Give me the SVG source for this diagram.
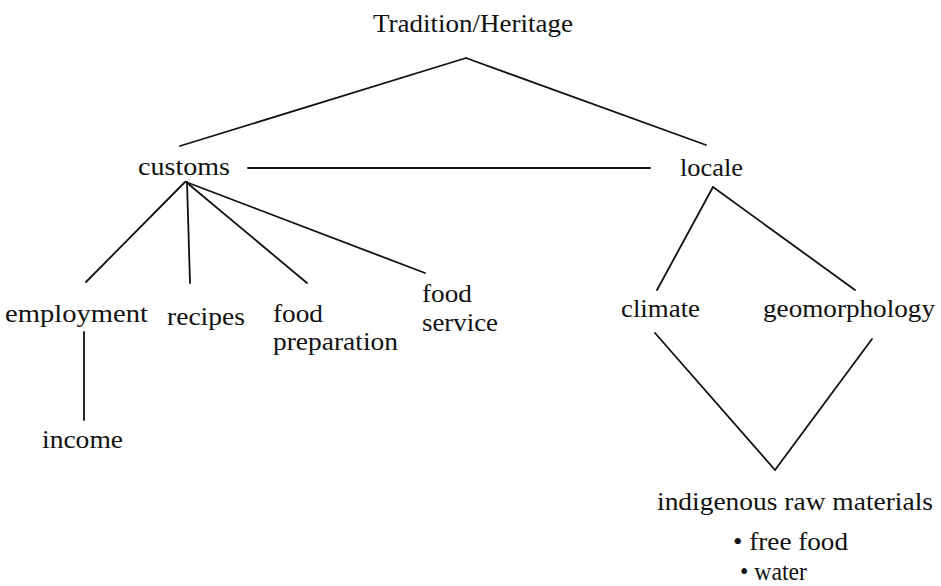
<svg xmlns="http://www.w3.org/2000/svg" width="941" height="586" viewBox="0 0 941 586" font-family="Liberation Serif, DejaVu Serif, serif">
<style>
text { font-family: 'Liberation Serif', 'DejaVu Serif', serif; font-size: 26px; fill: #111; }
.c line { stroke: #111; stroke-width: 1.8; stroke-linecap: round; }
</style>
<rect width="941" height="586" fill="#fff"/>
<g class="c" id="connectors">
<line x1="466" y1="58" x2="180" y2="146"/>
<line x1="466" y1="58" x2="706" y2="145"/>
<line x1="248" y1="168" x2="650" y2="168"/>
<line x1="185" y1="182" x2="86" y2="282"/>
<line x1="187" y1="182" x2="190" y2="283"/>
<line x1="186" y1="182" x2="307" y2="283"/>
<line x1="186" y1="182" x2="425" y2="273"/>
<line x1="84" y1="332" x2="84" y2="420"/>
<line x1="713" y1="187" x2="657" y2="290"/>
<line x1="713" y1="187" x2="855" y2="290"/>
<line x1="655" y1="333" x2="775" y2="470"/>
<line x1="872" y1="339" x2="775" y2="470"/>
</g>
<g id="tradition"><text x="373" y="32" textLength="200" lengthAdjust="spacingAndGlyphs">Tradition/Heritage</text></g>
<g id="customs"><text x="138" y="175" textLength="92" lengthAdjust="spacingAndGlyphs">customs</text></g>
<g id="locale"><text x="680" y="176" textLength="63" lengthAdjust="spacingAndGlyphs">locale</text></g>
<g id="employment"><text x="5" y="322" textLength="143" lengthAdjust="spacingAndGlyphs">employment</text></g>
<g id="recipes"><text x="167" y="325" textLength="78" lengthAdjust="spacingAndGlyphs">recipes</text></g>
<g id="food-preparation"><text x="273" y="322" textLength="50" lengthAdjust="spacingAndGlyphs">food</text><text x="273" y="350" textLength="125" lengthAdjust="spacingAndGlyphs">preparation</text></g>
<g id="food-service"><text x="422" y="302" textLength="50" lengthAdjust="spacingAndGlyphs">food</text><text x="422" y="331" textLength="76" lengthAdjust="spacingAndGlyphs">service</text></g>
<g id="climate"><text x="621" y="317" textLength="79" lengthAdjust="spacingAndGlyphs">climate</text></g>
<g id="geomorphology"><text x="763" y="317" textLength="172" lengthAdjust="spacingAndGlyphs">geomorphology</text></g>
<g id="income"><text x="42" y="448" textLength="81" lengthAdjust="spacingAndGlyphs">income</text></g>
<g id="materials"><text x="657" y="510" textLength="276" lengthAdjust="spacingAndGlyphs">indigenous raw materials</text><text x="733" y="550" textLength="115" lengthAdjust="spacingAndGlyphs">• free food</text><text x="740" y="580" textLength="67" lengthAdjust="spacingAndGlyphs">• water</text></g>
</svg>
